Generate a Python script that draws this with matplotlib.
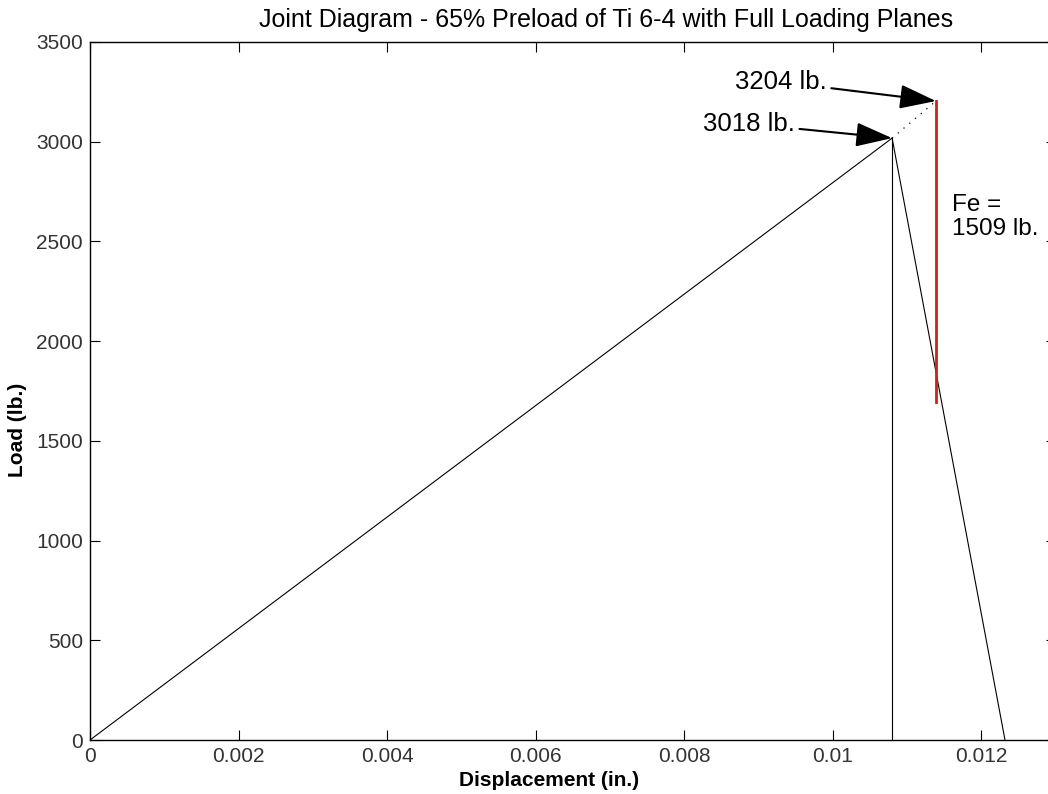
import numpy as np
import matplotlib.pyplot as plt

plt.rcParams['font.family'] = ['Liberation Sans', 'DejaVu Sans']

# joint diagram values (in., lb.)
preload = 3018
peak_load = 3204
fe = 1509
bolt_disp = [0, 0.0108]
bolt_load = [0, preload]
member_disp = [0.0108, 0.01232]
member_load = [preload, 0]
ext_disp = [0.0108, 0.01139]
ext_load = [preload, peak_load]
fe_disp = 0.01139

xticks = [0, 0.002, 0.004, 0.006, 0.008, 0.01, 0.012]
xticklabels = ['0', '0.002', '0.004', '0.006', '0.008', '0.01', '0.012']
yticks = [0, 500, 1000, 1500, 2000, 2500, 3000, 3500]
yticklabels = ['0', '500', '1000', '1500', '2000', '2500', '3000', '3500']

fig = plt.figure(figsize=(10.48, 7.94), dpi=100)
ax = fig.add_axes([90/1048, 54/794, 965.5/1048, 698/794])

ax.plot(bolt_disp, bolt_load, color='black', lw=0.8)
ax.plot([bolt_disp[1], bolt_disp[1]], [0, preload], color='black', lw=0.8)
ax.plot(member_disp, member_load, color='black', lw=0.8)
ax.plot(ext_disp, ext_load, color='black', lw=0.9, ls=(0, (1, 5)))
ax.plot([fe_disp, fe_disp], [peak_load, peak_load - fe], color='#cc2222', lw=2.0)

arrow = dict(arrowstyle='-|>,head_length=1.5,head_width=0.5', color='black',
             lw=1.5, shrinkA=1, shrinkB=0, mutation_scale=15)
ax.annotate(f'{peak_load} lb.', xy=(fe_disp, peak_load), xytext=(0.00869, 3299),
            ha='left', va='center', fontsize=18.5, arrowprops=arrow)
ax.annotate(f'{preload} lb.', xy=(bolt_disp[1], preload), xytext=(0.00826, 3089),
            ha='left', va='center', fontsize=18.5, arrowprops=arrow)
ax.text(0.01161, 2740, f'Fe =\n{fe} lb.', ha='left', va='top', fontsize=17.5,
        linespacing=1.15)

ax.set_xlim(0, 0.013)
ax.set_ylim(0, 3500)
ax.set_xticks(xticks)
ax.set_xticklabels(xticklabels)
ax.set_yticks(yticks)
ax.set_yticklabels(yticklabels)
ax.tick_params(direction='in', length=7, width=0.8, top=True, right=True,
               labelsize=15, labelcolor='#333333', pad=5)
for s in ax.spines.values():
    s.set_linewidth(1.0)

ax.set_xlabel('Displacement (in.)', fontsize=15, fontweight='bold')
ax.xaxis.set_label_coords(0.475, -0.045)
ax.set_ylabel('Load (lb.)', fontsize=15, fontweight='bold')
ax.yaxis.set_label_coords(-0.065, 0.444)
fig.text(606/1048, 1 - 20/794, 'Joint Diagram - 65% Preload of Ti 6-4 with Full Loading Planes',
         ha='center', va='center', fontsize=18)

fig.savefig('out.png', dpi=100)
